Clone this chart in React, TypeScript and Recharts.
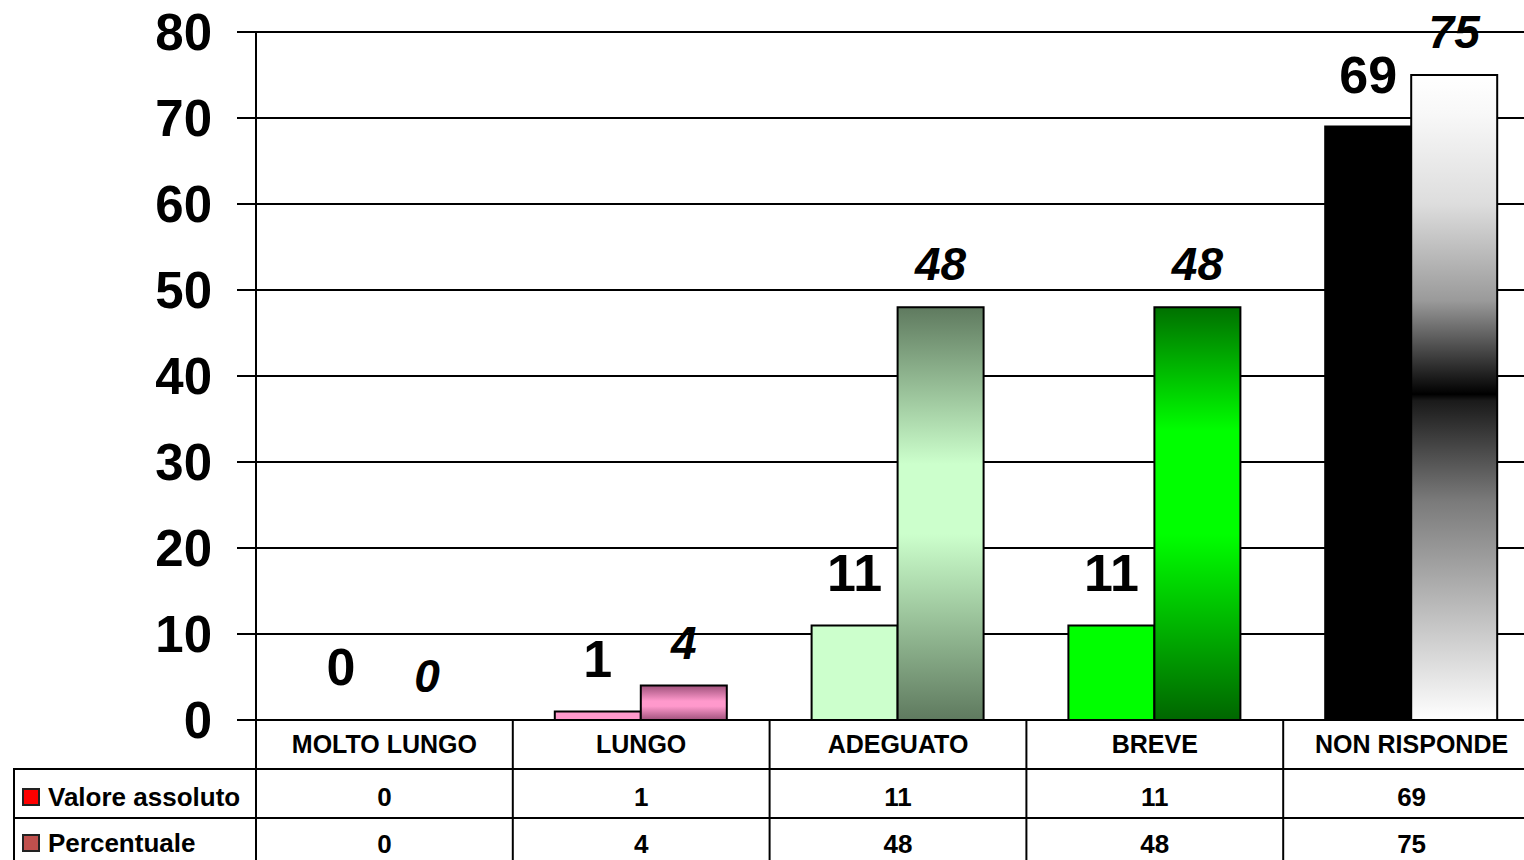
import React from 'react'
import { BarChart, Bar, XAxis, YAxis, CartesianGrid, Cell, LabelList, Legend } from 'recharts'

const categories = ['MOLTO LUNGO', 'LUNGO', 'ADEGUATO', 'BREVE', 'NON RISPONDE']
const valoreAssoluto = [0, 1, 11, 11, 69]
const percentuale = [0, 4, 48, 48, 75]
const seriesNames = ['Valore assoluto', 'Percentuale']
const yTicks = [0, 10, 20, 30, 40, 50, 60, 70, 80]

const valoreColors = ['#ff0000', '#ff99cc', '#ccffcc', '#00ff00', '#000000']
const percentColors = ['url(#gPink)', 'url(#gPink)', 'url(#gSage)', 'url(#gGreen)', 'url(#gGrey)']

const FONT = '"Liberation Sans", Arial, sans-serif'

const data = categories.map((name, i) => ({
  name,
  valore: valoreAssoluto[i],
  percentuale: percentuale[i],
}))

function ValoreLabel(props: any) {
  const { x, y, width, height, value } = props
  const top = height < 0 ? y + height : y
  return (
    <text
      x={x + width / 2}
      y={top - 52}
      textAnchor="middle"
      dominantBaseline="central"
      fontFamily={FONT}
      fontWeight="bold"
      fontSize={52}
      fill="#000"
    >
      {value}
    </text>
  )
}

function PercentLabel(props: any) {
  const { x, y, width, height, value } = props
  const top = height < 0 ? y + height : y
  return (
    <text
      x={x + width / 2}
      y={top - 43}
      textAnchor="middle"
      dominantBaseline="central"
      fontFamily={FONT}
      fontWeight="bold"
      fontStyle="italic"
      fontSize={46}
      fill="#000"
    >
      {value}
    </text>
  )
}

// category names + data table columns
function TableTick(props: any) {
  const { x, y, payload, index } = props
  const half = payload.offset ?? 128
  const cell = { textAnchor: 'middle' as const, dominantBaseline: 'central' as const, fontFamily: FONT, fontWeight: 'bold', fontSize: 25, fill: '#000' }
  return (
    <g>
      <line x1={x - half} y1={y} x2={x - half} y2={y + 150} stroke="#000" strokeWidth={2} />
      <text x={x} y={y + 24} {...cell}>{payload.value}</text>
      <text x={x} y={y + 77} {...cell} fontSize={26}>{valoreAssoluto[index]}</text>
      <text x={x} y={y + 124} {...cell} fontSize={26}>{percentuale[index]}</text>
    </g>
  )
}

function TableLegend(props: any) {
  const items = [...(props.payload || [])].sort(
    (a: any, b: any) => seriesNames.indexOf(a.value) - seriesNames.indexOf(b.value)
  )
  return (
    <div style={{ width: 1540 - 13, fontFamily: FONT }}>
      {items.map((item: any, i: number) => (
        <div
          key={item.value}
          style={{
            height: i === 0 ? 49 : 60,
            borderTop: '2px solid #000',
            borderLeft: '2px solid #000',
            boxSizing: 'border-box',
            paddingLeft: 7,
            paddingTop: i === 0 ? 12 : 9,
          }}
        >
          <div style={{ display: 'flex', alignItems: 'center' }}>
            <span
              style={{
                display: 'inline-block',
                width: 14,
                height: 14,
                background: item.color,
                border: '2px solid #222',
                marginRight: 8,
              }}
            />
            <span style={{ fontSize: 26, fontWeight: 'bold', color: '#000', lineHeight: '30px' }}>{item.value}</span>
          </div>
        </div>
      ))}
    </div>
  )
}

export default function App() {
  return (
    <div style={{ position: 'absolute', left: 0, top: 0, width: 1524, height: 860, overflow: 'hidden', background: '#fff' }}>
      <BarChart
        width={1540}
        height={860}
        data={data}
        margin={{ top: 32, right: 0, bottom: 0, left: 0 }}
        barGap={0}
        barCategoryGap={42}
      >
        <defs>
          <linearGradient id="gPink" x1="0" y1="0" x2="0" y2="1">
            <stop offset="0%" stopColor="#a0527c" />
            <stop offset="45%" stopColor="#ff99cc" />
            <stop offset="60%" stopColor="#ff99cc" />
            <stop offset="100%" stopColor="#a0527c" />
          </linearGradient>
          <linearGradient id="gSage" x1="0" y1="0" x2="0" y2="1">
            <stop offset="0%" stopColor="#5f7a5f" />
            <stop offset="38%" stopColor="#ccffcc" />
            <stop offset="55%" stopColor="#ccffcc" />
            <stop offset="100%" stopColor="#5f7a5f" />
          </linearGradient>
          <linearGradient id="gGreen" x1="0" y1="0" x2="0" y2="1">
            <stop offset="0%" stopColor="#007000" />
            <stop offset="30%" stopColor="#00ff00" />
            <stop offset="55%" stopColor="#00ff00" />
            <stop offset="100%" stopColor="#006600" />
          </linearGradient>
          <linearGradient id="gGrey" x1="0" y1="0" x2="0" y2="1">
            <stop offset="0%" stopColor="#ffffff" />
            <stop offset="6%" stopColor="#f8f8f8" />
            <stop offset="20%" stopColor="#dddddd" />
            <stop offset="35%" stopColor="#9a9a9a" />
            <stop offset="49.5%" stopColor="#000000" />
            <stop offset="50.5%" stopColor="#1a1a1a" />
            <stop offset="66%" stopColor="#7a7a7a" />
            <stop offset="100%" stopColor="#ffffff" />
          </linearGradient>
        </defs>
        <CartesianGrid vertical={false} stroke="#000" strokeWidth={2} />
        <XAxis
          dataKey="name"
          height={140}
          interval={0}
          tickSize={0}
          tickMargin={0}
          tickLine={false}
          axisLine={{ stroke: '#000', strokeWidth: 2 }}
          tick={<TableTick />}
        />
        <YAxis
          width={256}
          domain={[0, 80]}
          ticks={yTicks}
          interval={0}
          tickSize={19}
          tickMargin={25}
          tickLine={{ stroke: '#000', strokeWidth: 2 }}
          axisLine={{ stroke: '#000', strokeWidth: 2 }}
          tick={{ fontFamily: FONT, fontWeight: 'bold', fontSize: 51, fill: '#000' }}
        />
        <Legend
          layout="horizontal"
          verticalAlign="middle"
          align="center"
          content={<TableLegend />}
          wrapperStyle={{ position: 'absolute', left: 13, top: 768, width: 1527, height: 100 }}
        />
        <Bar dataKey="valore" name="Valore assoluto" fill="#ff0000" stroke="#000" strokeWidth={2} minPointSize={1} isAnimationActive={false}>
          {data.map((d, i) => (
            <Cell key={d.name} fill={d.valore ? valoreColors[i] : 'none'} stroke={d.valore ? '#000' : 'none'} />
          ))}
          <LabelList dataKey="valore" content={<ValoreLabel />} />
        </Bar>
        <Bar dataKey="percentuale" name="Percentuale" fill="#c0504d" stroke="#000" strokeWidth={2} minPointSize={1} isAnimationActive={false}>
          {data.map((d, i) => (
            <Cell key={d.name} fill={d.percentuale ? percentColors[i] : 'none'} stroke={d.percentuale ? '#000' : 'none'} />
          ))}
          <LabelList dataKey="percentuale" content={<PercentLabel />} />
        </Bar>
      </BarChart>
    </div>
  )
}
